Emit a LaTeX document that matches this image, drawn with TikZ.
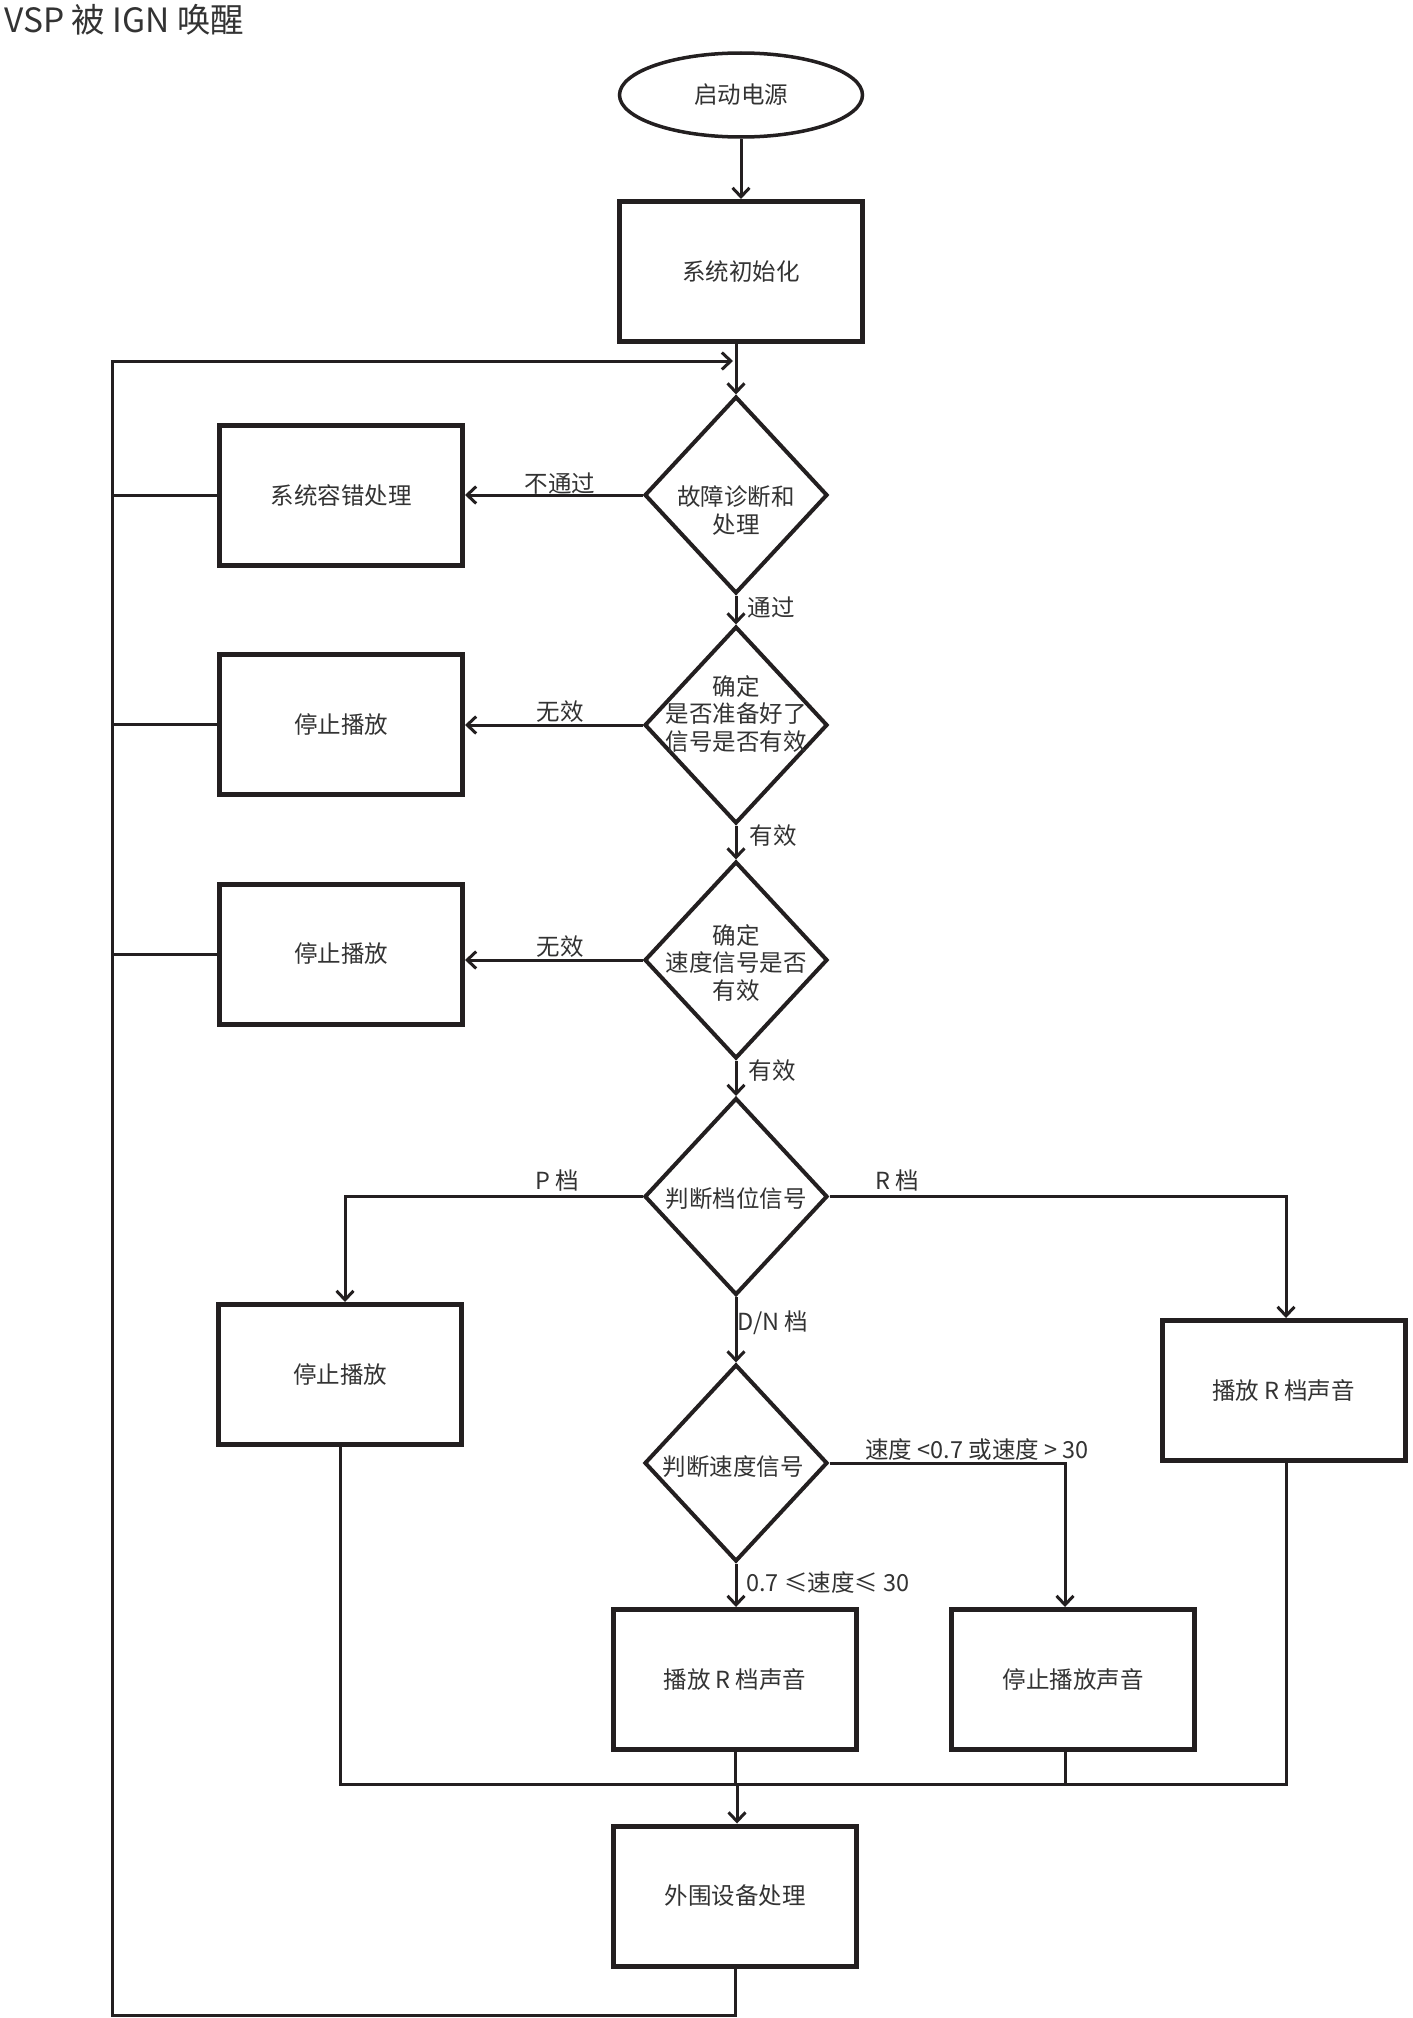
\documentclass[tikz,border=0pt]{standalone}
\usepackage{fontspec}
\setmainfont{Noto Sans CJK SC}
\usetikzlibrary{shapes.geometric,arrows.meta,calc}
\definecolor{lc}{HTML}{231F20}
\definecolor{tc}{HTML}{333333}
\newcommand{\fsz}{\fontsize{23.5}{27.5}\selectfont}
\begin{document}
\begin{tikzpicture}[x=1pt,y=-1pt,
  ln/.style={draw=lc,line width=3pt},
  arr/.style={ln,-{Straight Barb[length=9pt,width=17pt]}},
  pbox/.style={draw=lc,line width=5pt,minimum width=243pt,minimum height=140pt,inner sep=0pt,font=\fsz,text=tc,align=center},
  dia/.style={draw=lc,line width=4pt,shape=diamond,minimum width=183pt,minimum height=197pt,inner sep=0pt},
  txt/.style={font=\fsz,text=tc,align=center,inner sep=0pt},
]
\useasboundingbox[fill=white] (0,0) rectangle (1413,2018);

\node[font=\fontsize{33.5}{40}\selectfont,text=tc,anchor=west,inner sep=0pt] (title) at (4,20) {VSP 被 IGN 唤醒};

\node[draw=lc,line width=3.5pt,ellipse,minimum width=243pt,minimum height=84pt,inner sep=0pt,font=\fsz,text=tc] (start) at (741,95) {启动电源};
\node[pbox] (init) at (741,271.5) {系统初始化};

\node[dia] (d1) at (736,495) {};
\node[txt] (d1t) at (736,510.5) {故障诊断和\\处理};
\node[pbox] (e1) at (341,495.5) {系统容错处理};

\node[dia] (d2) at (736,725) {};
\node[txt] (d2t) at (736,714) {确定\\是否准备好了\\信号是否有效};
\node[pbox] (e2) at (341,724.5) {停止播放};

\node[dia] (d3) at (736,960) {};
\node[txt] (d3t) at (736,963) {确定\\速度信号是否\\有效};
\node[pbox] (e3) at (341,954) {停止播放};

\node[dia] (d4) at (736,1196.5) {};
\node[txt] (d4t) at (736,1199) {判断档位信号};
\node[pbox] (e4) at (340,1374.5) {停止播放};
\node[pbox] (rb) at (1283.5,1390.5) {播放 R 档声音};

\node[dia] (d5) at (736,1463) {};
\node[txt] (d5t) at (733,1467) {判断速度信号};
\node[pbox] (s1) at (735,1679.5) {播放 R 档声音};
\node[pbox] (s2) at (1073,1679.5) {停止播放声音};
\node[pbox] (f) at (735,1896) {外围设备处理};

% edge labels
\node[txt] (l1) at (560,484) {不通过};
\node[txt] (l2) at (771,607) {通过};
\node[txt] (l3) at (560,712) {无效};
\node[txt] (l4) at (773,836) {有效};
\node[txt] (l5) at (560,947) {无效};
\node[txt] (l6) at (772,1071) {有效};
\node[txt] (l7) at (557,1181) {P 档};
\node[txt] (l8) at (897,1181) {R 档};
\node[txt] (l9) at (773,1323) {D/N 档};
\node[txt] (l10) at (977,1450) {速度 <0.7 或速度 > 30};
\node[txt] (l11) at (828,1582) {0.7 ≤速度≤ 30};

% coordinates
\coordinate (lt) at (112,361);
\coordinate (lb) at (112,2015);
\coordinate (pa) at (345,1196.5);
\coordinate (ra) at (1286,1196.5);
\coordinate (sa) at (1065,1463);
\coordinate (m) at (737,1784);

% connectors
\draw[arr] (start.south) -- (init.north);
\draw[arr] (init.south -| d1.north) -- (d1.north);
\draw[arr] (d1.west) -- (d1.west -| e1.east);
\draw[arr] (d1.south) -- (d2.north);
\draw[arr] (d2.west) -- (d2.west -| e2.east);
\draw[arr] (d2.south) -- (d3.north);
\draw[arr] (d3.west) -- (d3.west -| e3.east);
\draw[arr] (d3.south) -- (d4.north);
\draw[arr] (d4.west) -- (pa) -- (pa |- e4.north);
\draw[arr] (d4.east) -- (ra) -- (ra |- rb.north);
\draw[arr] (d4.south) -- (d5.north);
\draw[arr] (d5.east) -- (sa) -- (sa |- s2.north);
\draw[arr] (d5.south) -- (d5.south |- s1.north);

\draw[ln] (e1.west) -- (e1.west -| lt);
\draw[ln] (e2.west) -- (e2.west -| lt);
\draw[ln] (e3.west) -- (e3.west -| lt);

\draw[ln] (e4.south) -- (e4.south |- m) -- (m -| ra) -- (ra |- rb.south);
\draw[ln] (s1.south) -- (s1.south |- m);
\draw[ln] (sa |- s2.south) -- (sa |- m);
\draw[arr] (m) -- (m |- f.north);

\draw[arr] (f.south) -- (f.south |- lb) -- (lb) -- (lt) -- ([xshift=-3pt]d1.north |- lt);
\end{tikzpicture}
\end{document}
